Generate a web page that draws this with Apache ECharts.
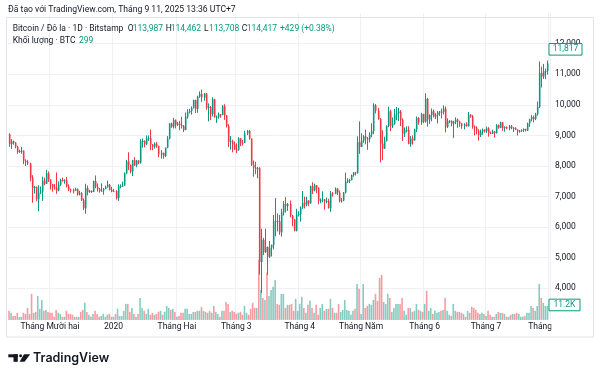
<!DOCTYPE html>
<html><head><meta charset="utf-8">
<script src="https://cdn.jsdelivr.net/npm/echarts@6/dist/echarts.min.js"></script>
<style>html,body{margin:0;padding:0;background:#fff}#c{width:600px;height:378px}</style>
</head><body><div id="c"></div>
<script>
// ---- data: daily candles [open, close, low, high], BTC/USD Bitstamp ----
const startDate = '2019-11-11';
const endDate = '2020-08-01';
const nov2019 = [[9040,8720,8630,9070],[8720,8810,8560,8880],[8810,8760,8700,8830],[8760,8630,8580,8780],[8630,8460,8400,8660],[8460,8490,8430,8530],[8490,8500,8400,8630],[8500,8170,8060,8510],[8170,8120,8000,8220],[8120,8080,8030,8200],[8080,7620,7500,8110],[7620,7280,6800,7700],[7280,7320,7100,7350],[7320,6910,6850,7330],[6910,7130,6520,7370],[7130,7160,7080,7330],[7160,7520,6860,7650],[7520,7420,7370,7620],[7420,7760,7410,7870],[7760,7560,7480,7820]];
const dec2019 = [[7560,7400,7230,7560],[7400,7300,7160,7410],[7300,7290,7230,7410],[7290,7200,7090,7790],[7200,7390,7170,7490],[7390,7540,7350,7580],[7540,7510,7490,7620],[7510,7530,7420,7570],[7530,7340,7300,7640],[7340,7230,7180,7400],[7230,7200,7130,7260],[7200,7190,7100,7260],[7190,7250,7180,7290],[7250,7070,7030,7270],[7070,7110,7040,7190],[7110,6880,6860,7150],[6880,6620,6560,6940],[6620,7280,6440,7420],[7280,7150,7040,7360],[7150,7190,7120,7220],[7190,7150,7120,7200],[7150,7510,7150,7520],[7510,7320,7270,7690],[7320,7250,7160,7430],[7250,7190,7130,7280],[7190,7200,7160,7430],[7200,7250,7060,7280],[7250,7310,7240,7360],[7310,7390,7290,7520],[7390,7220,7200,7410],[7220,7170,7140,7320]];
const jan2020 = [[7170,7180,7160,7250],[7180,6950,6900,7210],[6950,7340,6860,7400],[7340,7350,7270,7400],[7350,7360,7320,7490],[7360,7760,7350,7790],[7760,8150,7730,8200],[8150,8040,7870,8450],[8040,7820,7760,8050],[7820,8190,7670,8200],[8190,8020,8000,8290],[8020,8180,7960,8200],[8180,8110,8060,8190],[8110,8810,8080,8880],[8810,8820,8600,8900],[8820,8720,8610,8840],[8720,8900,8680,9000],[8900,8910,8820,9000],[8910,8700,8520,9190],[8700,8630,8520,8720],[8630,8730,8570,8770],[8730,8660,8600,8790],[8660,8380,8290,8670],[8380,8430,8240,8520],[8430,8330,8240,8440],[8330,8600,8290,8600],[8600,8900,8580,8980],[8900,9390,8870,9400],[9390,9290,9250,9420],[9290,9510,9230,9570],[9510,9350,9230,9520]];
const feb2020 = [[9350,9390,9310,9440],[9390,9340,9170,9480],[9340,9300,9230,9610],[9300,9180,9110,9340],[9180,9610,9170,9750],[9610,9760,9550,9860],[9760,9800,9720,9870],[9800,9900,9680,9950],[9900,10160,9880,10170],[10160,9860,9730,10170],[9860,10270,9740,10300],[10270,10360,10230,10440],[10360,10240,10100,10500],[10240,10370,10140,10390],[10370,9900,9840,10390],[9900,9930,9460,10050],[9930,9700,9500,9960],[9700,10180,9620,10250],[10180,9600,9580,10200],[9600,9610,9410,9650],[9610,9690,9550,9750],[9690,9670,9580,9700],[9670,9960,9660,9990],[9960,9660,9510,10020],[9660,9310,9260,9660],[9310,8790,8620,9370],[8790,8810,8540,8980],[8810,8700,8450,8860],[8700,8540,8530,8800]];
const mar2020 = [[8540,8530,8420,8740],[8530,8910,8500,8940],[8910,8760,8650,8910],[8760,8750,8670,8850],[8750,9070,8750,9150],[9070,9150,9010,9180],[9150,8900,8860,9180],[8900,8040,8000,8900],[8040,7940,7650,8180],[7940,7910,7730,8140],[7910,7930,7600,7970],[7930,4860,4450,7960],[4860,5590,3850,5950],[5590,5180,5090,5650],[5180,5350,5160,5950],[5350,5030,4440,5370],[5030,5330,4990,5550],[5330,5420,5040,5430],[5420,6190,5270,6400],[6190,6200,5700,6950],[6200,6190,5860,6450],[6190,5830,5750,6400],[5830,6480,5690,6600],[6480,6760,6380,6850],[6760,6690,6480,6980],[6690,6760,6530,6790],[6760,6380,6320,6870],[6380,6250,6030,6400],[6250,5880,5860,6270],[5880,6400,5860,6600],[6400,6430,6350,6520]];
const apr2020 = [[6430,6640,6180,6680],[6640,6800,6600,7180],[6800,6740,6610,7000],[6740,6870,6680,6990],[6870,6780,6690,6890],[6780,7340,6770,7360],[7340,7200,7080,7470],[7200,7370,7170,7420],[7370,7290,7110,7370],[7290,6860,6750,7300],[6860,6890,6780,6940],[6890,6910,6810,7170],[6910,6850,6570,6910],[6850,6860,6780,6970],[6860,6620,6610,6930],[6620,7100,6500,7180],[7100,7090,7000,7150],[7090,7260,7080,7300],[7260,7130,7050,7280],[7130,6850,6810,7200],[6850,6870,6800,6950],[6870,7130,6850,7150],[7130,7490,7100,7780],[7490,7530,7440,7600],[7530,7540,7440,7580],[7540,7700,7530,7720],[7700,7790,7650,7800],[7790,7770,7690,7800],[7770,8780,7750,8970],[8780,8620,8400,9460]];
const may2020 = [[8620,8830,8620,9070],[8830,8970,8760,9010],[8970,8900,8710,9190],[8900,8880,8530,8950],[8880,9030,8770,9100],[9030,9150,8940,9400],[9150,9990,9040,10050],[9990,9810,9720,10030],[9810,9540,9510,9900],[9540,8730,8120,9570],[8730,8570,8200,9170],[8570,8820,8560,8960],[8820,9310,8800,9330],[9310,9790,9270,9940],[9790,9320,9140,9840],[9320,9380,9240,9590],[9380,9680,9350,9870],[9680,9730,9500,9930],[9730,9780,9470,9900],[9780,9510,9310,9830],[9510,9060,8820,9560],[9060,9170,8950,9260],[9170,9180,9100,9300],[9180,8720,8710,9300],[8720,8900,8630,8980],[8900,8840,8700,9000],[8840,9200,8830,9220],[9200,9570,9110,9620],[9570,9430,9350,9600],[9430,9700,9350,9740],[9700,9450,9400,9710]];
const jun2020 = [[9450,10200,9420,10380],[10200,9520,9290,10230],[9520,9670,9380,9690],[9670,9790,9460,9880],[9790,9620,9590,9850],[9620,9670,9540,9730],[9670,9750,9390,9800],[9750,9780,9640,9800],[9780,9770,9560,9880],[9770,9880,9690,9980],[9880,9280,9100,9950],[9280,9470,9240,9560],[9470,9480,9400,9500],[9480,9390,9300,9490],[9390,9440,8920,9480],[9440,9520,9370,9590],[9520,9460,9250,9550],[9460,9390,9280,9480],[9390,9300,9220,9410],[9300,9360,9200,9400],[9360,9300,9290,9430],[9300,9680,9290,9770],[9680,9630,9580,9690],[9630,9290,9220,9670],[9290,9250,9000,9330],[9250,9160,9040,9300],[9160,9010,8830,9200],[9010,9120,8950,9190],[9120,9190,9020,9230],[9190,9140,9090,9200]];
const jul2020 = [[9140,9230,9080,9290],[9230,9090,8960,9270],[9090,9060,9040,9130],[9060,9130,9050,9190],[9130,9080,8930,9140],[9080,9340,9060,9370],[9340,9250,9220,9360],[9250,9430,9240,9450],[9430,9240,9150,9430],[9240,9280,9120,9300],[9280,9230,9200,9290],[9230,9300,9170,9340],[9300,9240,9200,9340],[9240,9250,9110,9270],[9250,9190,9170,9270],[9190,9130,9000,9200],[9130,9150,9090,9180],[9150,9170,9120,9200],[9170,9210,9110,9230],[9210,9160,9130,9220],[9160,9390,9150,9420],[9390,9530,9280,9550],[9530,9600,9460,9670],[9600,9540,9430,9650],[9540,9700,9500,9740],[9700,9930,9650,10110],[9930,11040,9900,11420],[11040,10930,10570,11250],[10930,11100,10850,11340],[11100,11110,10840,11190],[11110,11350,10990,11450]];

// daily volume, thousand BTC
const volNov2019 = [6.8,5.3,3.0,3.0,5.3,2.3,2.3,5.3,4.5,9.0,4.5,19.5,5.3,6.0,18.0,8.3,15.0,6.8,7.5,6.0];
const volDec2019 = [5.3,5.3,2.3,7.5,5.3,4.5,2.3,2.3,6.8,4.5,4.5,3.8,2.3,2.3,2.3,6.0,7.5,12.8,6.0,3.8,2.3,4.5,6.8,4.5,2.3,3.0,4.5,2.3,3.8,4.5,2.3];
const volJan2020 = [2.3,4.5,8.3,3.0,3.0,6.8,12.0,12.0,6.0,9.0,4.5,2.3,4.5,16.5,9.0,6.8,4.5,8.3,3.8,5.3,3.8,4.5,6.0,6.8,3.8,6.0,10.5,9.0,7.5,8.3,6.0];
const volFeb2020 = [2.3,3.0,5.3,5.3,8.3,8.3,4.5,4.5,6.0,6.0,6.8,6.8,9.8,6.8,6.0,5.3,6.8,5.3,10.5,6.0,4.5,2.3,6.8,6.8,13.5,12.0,6.0,6.8,6.0];
const volMar2020 = [4.5,5.3,6.0,3.8,10.5,5.3,3.8,8.3,12.8,9.0,9.0,45.0,22.5,16.5,15.0,35.3,18.0,22.5,24.8,30.0,12.0,11.3,19.5,19.5,9.0,11.3,11.3,12.0,6.8,15.8,6.8];
const volApr2020 = [12.0,17.3,9.0,5.3,11.3,14.3,9.0,5.3,11.3,3.8,9.0,12.0,6.8,8.3,8.3,15.8,9.0,5.3,5.3,12.0,6.0,7.5,15.0,7.5,6.8,3.8,6.8,8.3,27.0,23.3];
const volMay2020 = [4.5,27.0,9.0,10.5,12.0,11.3,15.0,19.5,14.3,31.5,33.8,13.5,12.0,19.5,16.5,6.0,9.0,12.0,12.0,12.0,16.5,6.8,3.8,9.0,9.0,6.0,6.8,12.0,7.5,6.8,6.0];
const volJun2020 = [12.0,21.8,6.8,9.0,4.5,6.8,5.3,6.0,6.8,7.5,16.5,6.8,3.8,3.0,12.0,6.8,6.0,6.0,5.3,4.5,2.3,6.8,5.3,9.8,9.0,7.5,5.3,4.5,5.3,4.5];
const volJul2020 = [3.0,6.8,3.8,2.3,2.3,4.5,6.0,5.3,5.3,4.5,2.3,2.3,3.8,4.5,4.5,5.3,4.5,2.3,2.3,3.0,5.3,5.3,10.5,9.0,6.8,10.5,27.0,16.5,12.8,10.5,10.5];

const monthTicks = [['2019-12-01','Tháng Mười hai'],['2020-01-01','2020'],['2020-02-01','Tháng Hai'],['2020-03-01','Tháng 3'],['2020-04-01','Tháng 4'],['2020-05-01','Tháng Năm'],['2020-06-01','Tháng 6'],['2020-07-01','Tháng 7'],['2020-08-01','Tháng Tám']];
const priceTicks = [4000,5000,6000,7000,8000,9000,10000,11000,12000];
const lastPrice = 11817;
const lastVolumeK = 11.2;
const headerText = 'Đã tạo với TradingView.com, Tháng 9 11, 2025 13:36 UTC+7';
const legendSymbol = 'Bitcoin / Đô la · 1D · Bitstamp';
const legendOHLC = [['O','113,987'],['H','114,462'],['L','113,708'],['C','114,417']];
const legendChange = '+429 (+0.38%)';
const legendVolume = ['Khối lượng · BTC', '299'];

// ---- build ----
function buildDates(s, e) {
  const out = []; let d = Date.parse(s + 'T00:00:00Z'); const end = Date.parse(e + 'T00:00:00Z');
  while (d <= end) { out.push(new Date(d).toISOString().slice(0, 10)); d += 86400000; }
  return out;
}
const dates = buildDates(startDate, endDate);
const candles = [].concat(nov2019, dec2019, jan2020, feb2020, mar2020, apr2020, may2020, jun2020, jul2020);
const volumes = [].concat(volNov2019, volDec2019, volJan2020, volFeb2020, volMar2020, volApr2020, volMay2020, volJun2020, volJul2020);
const UP = '#089981', DOWN = '#f23645';
const VUP = 'rgba(8,153,129,0.5)', VDOWN = 'rgba(242,54,69,0.5)';
const candleData = candles.map((c, i) => [i, c[0], c[1], c[2], c[3]]);
const volData = dates.map((d, i) => volumes[i] != null ? { value: volumes[i], itemStyle: { color: candles[i][1] >= candles[i][0] ? VUP : VDOWN } } : '-');
const tickMap = {}; monthTicks.forEach(t => tickMap[t[0]] = t[1]);
const isTick = (idx, val) => tickMap.hasOwnProperty(val);

const FONT = 'Roboto';
const TXT = '#131722';
const GRIDC = '#eef0f3';
const splitColors = ['rgba(0,0,0,0)'].concat(priceTicks.map(() => GRIDC)).concat(['rgba(0,0,0,0)']);

function renderCandle(params, api) {
  const i = api.value(0), o = api.value(1), c = api.value(2), l = api.value(3), h = api.value(4);
  const col = c >= o ? UP : DOWN;
  const pO = api.coord([i, o]), pC = api.coord([i, c]), pL = api.coord([i, l]), pH = api.coord([i, h]);
  const xr = Math.round(pO[0]);
  const top = Math.min(pO[1], pC[1]);
  const bh = Math.max(1, Math.abs(pO[1] - pC[1]));
  return {
    type: 'group',
    children: [
      { type: 'line', shape: { x1: xr + 0.5, y1: pH[1], x2: xr + 0.5, y2: pL[1] }, style: { stroke: col, lineWidth: 1 } },
      { type: 'rect', shape: { x: xr - 0.1, y: top, width: 1.6, height: bh }, style: { fill: col } }
    ]
  };
}

const chart = echarts.init(document.getElementById('c'), null, { renderer: 'canvas' });
const G_LEFT = 8.04, G_RIGHT = 49.5;
chart.setOption({
  animation: false,
  backgroundColor: '#ffffff',
  grid: [
    { left: G_LEFT, right: G_RIGHT, top: 13.16, height: 305.7 },
    { left: G_LEFT, right: G_RIGHT, top: 219.9, height: 100 }
  ],
  xAxis: [
    { type: 'category', gridIndex: 0, data: dates, boundaryGap: true,
      axisLine: { show: false }, axisTick: { show: false },
      axisLabel: { interval: isTick, formatter: v => tickMap[v] || '', fontFamily: FONT, fontSize: 8.5, color: TXT, margin: 4 },
      splitLine: { show: true, interval: isTick, lineStyle: { color: GRIDC, width: 1 } } },
    { type: 'category', gridIndex: 1, data: dates, boundaryGap: true, show: false }
  ],
  yAxis: [
    { type: 'value', gridIndex: 0, position: 'right', min: 3000, max: 13000, interval: 1000, scale: false,
      axisLine: { show: false }, axisTick: { show: false },
      axisLabel: { margin: 4.5, fontFamily: FONT, fontSize: 8.5, color: TXT,
        formatter: v => priceTicks.indexOf(v) >= 0 ? v.toLocaleString('en-US') : '' },
      splitLine: { show: true, lineStyle: { color: splitColors, width: 1 } } },
    { type: 'value', gridIndex: 1, min: 0, max: 75, show: false, splitLine: { show: false } }
  ],
  series: [
    { type: 'bar', xAxisIndex: 1, yAxisIndex: 1, data: volData, barWidth: 1.6, silent: true },
    { type: 'custom', xAxisIndex: 0, yAxisIndex: 0, data: candleData, renderItem: renderCandle,
      encode: { x: 0, y: [1, 2, 3, 4] }, silent: true }
  ]
});

const yPrice = chart.convertToPixel({ yAxisIndex: 0 }, lastPrice);
const yVol = chart.convertToPixel({ yAxisIndex: 1 }, lastVolumeK);

function t(x, y, text, color, size, align) {
  return { type: 'text', x: x, y: y, z: 50, style: { text: text, fill: color, font: size + 'px ' + FONT, textAlign: align || 'left', textVerticalAlign: 'middle' } };
}
const gfx = [];
gfx.push(t(8, 10, headerText, TXT, 8.6));
gfx.push({ type: 'rect', z: 40, shape: { x: 6.5, y: 17.5, width: 587, height: 319.5 }, style: { fill: null, stroke: '#e0e3eb', lineWidth: 1 } });
gfx.push(t(12.7, 29, legendSymbol, TXT, 8.5));
const lxs = [127.7, 165.7, 204, 241.7];
legendOHLC.forEach((p, i) => { gfx.push(t(lxs[i], 29, p[0], TXT, 8.5)); gfx.push(t(lxs[i] + 5, 29, p[1], UP, 8.5)); });
gfx.push(t(280, 29, legendChange, UP, 8.5));
gfx.push(t(12.7, 41, legendVolume[0], TXT, 8.5));
gfx.push(t(79, 41, legendVolume[1], UP, 8.5));
// clip the last month label under the price scale
gfx.push({ type: 'rect', z: 45, shape: { x: 551.5, y: 320.5, width: 41.5, height: 15.5 }, style: { fill: '#ffffff' } });
// last price badge
gfx.push({ type: 'rect', z: 60, shape: { x: 549, y: yPrice - 5.8, width: 33, height: 11.6 }, style: { fill: '#ffffff', stroke: UP, lineWidth: 1 } });
const tp = t(565.5, yPrice, lastPrice.toLocaleString('en-US'), UP, 8.5, 'center'); tp.z = 61; gfx.push(tp);
// last volume badge
gfx.push({ type: 'rect', z: 60, shape: { x: 549, y: yVol - 5.8, width: 31, height: 11.6 }, style: { fill: '#ffffff', stroke: UP, lineWidth: 1 } });
const tv = t(564.5, yVol, lastVolumeK + 'K', UP, 8.5, 'center'); tv.z = 61; gfx.push(tv);
// TradingView logo
gfx.push({ type: 'rect', z: 50, shape: { x: 8.3, y: 354.3, width: 9.5, height: 3 }, style: { fill: TXT } });
gfx.push({ type: 'rect', z: 50, shape: { x: 13.5, y: 354.3, width: 4.3, height: 7.5 }, style: { fill: TXT } });
gfx.push({ type: 'circle', z: 50, shape: { cx: 20.6, cy: 355.8, r: 1.5 }, style: { fill: TXT } });
gfx.push({ type: 'polygon', z: 50, shape: { points: [[24, 354.3], [30.2, 354.3], [24.6, 361.8], [19.6, 361.8]] }, style: { fill: TXT } });
gfx.push({ type: 'text', z: 50, x: 33, y: 358, style: { text: 'TradingView', fill: TXT, font: '600 12.5px Inter', textVerticalAlign: 'middle' } });
chart.setOption({ graphic: gfx });
</script></body></html>
